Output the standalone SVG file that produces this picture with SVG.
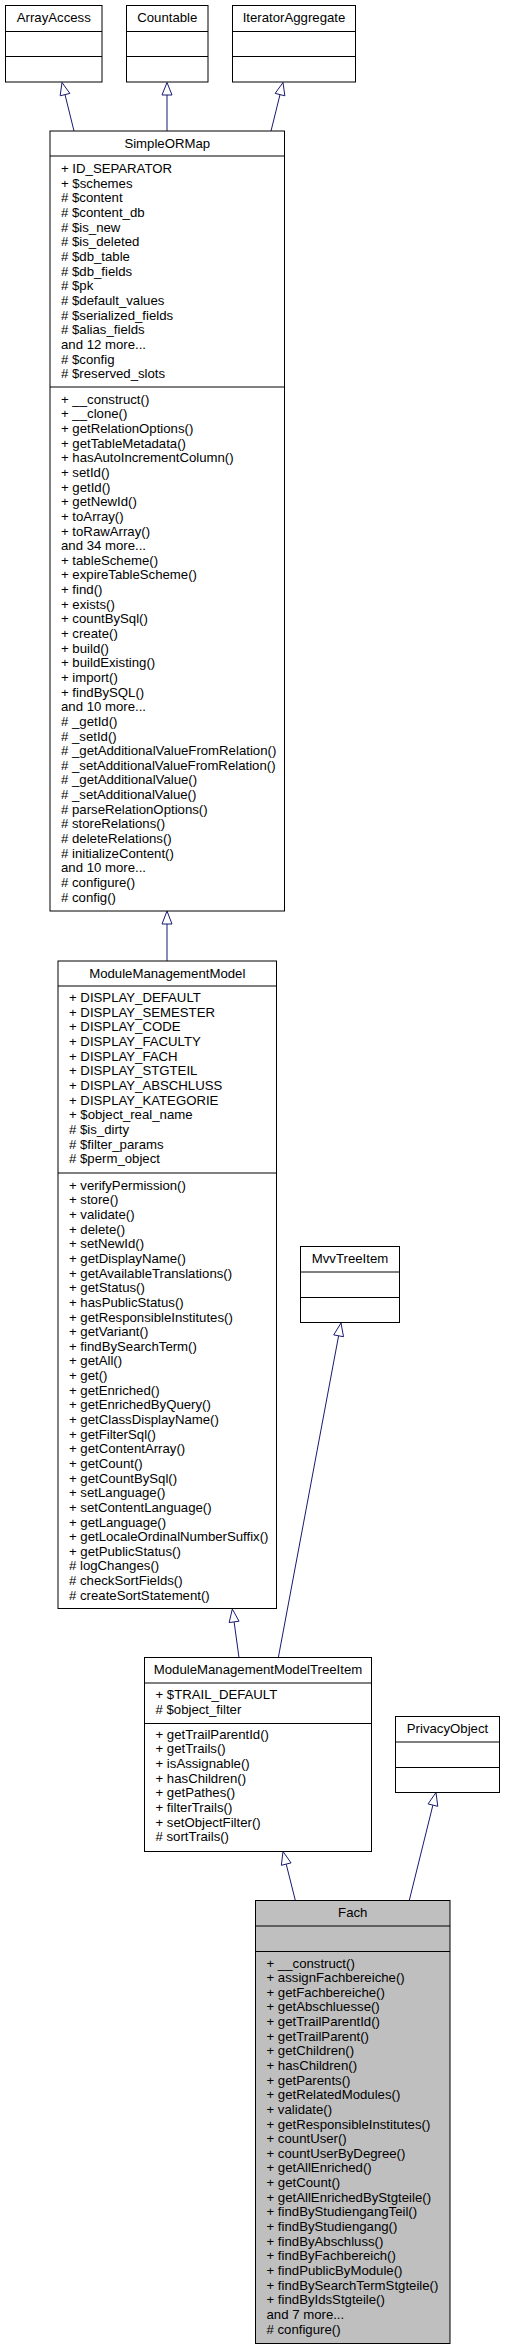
<svg xmlns="http://www.w3.org/2000/svg" width="505" height="2349" viewBox="0 0 505 2349">
<style>
text{font-family:"Liberation Sans",Arial,Helvetica,sans-serif;font-size:13.2px;fill:#000}
.h{text-anchor:middle}
.box{fill:#fff;stroke:#000;stroke-width:1}
.cur{fill:#bfbfbf;stroke:#000;stroke-width:1}
.div{stroke:#000;stroke-width:1}
.edge{stroke:#191970;stroke-width:1;fill:none}
.head{stroke:#191970;stroke-width:1;fill:#fff}
</style>
<rect width="505" height="2349" fill="#fff"/>
<g id="connectors">
<line class="edge" x1="74" y1="131" x2="65" y2="94.6"/>
<polygon class="head" points="62,82.5 69.85,93.4 60.15,95.8"/>
<line class="edge" x1="167" y1="131" x2="167" y2="95"/>
<polygon class="head" points="167,82.5 172,95 162,95"/>
<line class="edge" x1="271" y1="131" x2="280" y2="94.6"/>
<polygon class="head" points="283,82.5 284.85,95.8 275.15,93.4"/>
<line class="edge" x1="167" y1="961" x2="167" y2="924"/>
<polygon class="head" points="167,911 172,924 162,924"/>
<line class="edge" x1="278.3" y1="1657.7" x2="338.6" y2="1335.8"/>
<polygon class="head" points="341,1323 343.5,1336.7 333.7,1334.9"/>
<line class="edge" x1="239" y1="1657.7" x2="234.1" y2="1621.9"/>
<polygon class="head" points="232.3,1609 239.05,1621.2 229.15,1622.6"/>
<line class="edge" x1="409.3" y1="1900.3" x2="432.9" y2="1805.1"/>
<polygon class="head" points="436,1792.5 437.75,1806.3 428.05,1803.9"/>
<line class="edge" x1="295.3" y1="1900.3" x2="286.2" y2="1864.1"/>
<polygon class="head" points="283,1851.5 291.05,1862.9 281.35,1865.3"/>
</g>
<g id="ArrayAccess">
<rect class="box" x="5.5" y="5.5" width="96.5" height="76.5"/>
<line class="div" x1="5.5" y1="31.5" x2="102" y2="31.5"/>
<line class="div" x1="5.5" y1="56.5" x2="102" y2="56.5"/>
<text class="h" x="53.75" y="22">ArrayAccess</text>
</g>
<g id="Countable">
<rect class="box" x="126.5" y="5.5" width="81.5" height="76.5"/>
<line class="div" x1="126.5" y1="31.5" x2="208" y2="31.5"/>
<line class="div" x1="126.5" y1="56.5" x2="208" y2="56.5"/>
<text class="h" x="167.25" y="22">Countable</text>
</g>
<g id="IteratorAggregate">
<rect class="box" x="232.5" y="5.5" width="123" height="76.5"/>
<line class="div" x1="232.5" y1="31.5" x2="355.5" y2="31.5"/>
<line class="div" x1="232.5" y1="56.5" x2="355.5" y2="56.5"/>
<text class="h" x="294" y="22">IteratorAggregate</text>
</g>
<g id="SimpleORMap">
<rect class="box" x="50" y="131" width="234.5" height="780"/>
<line class="div" x1="50" y1="156" x2="284.5" y2="156"/>
<line class="div" x1="50" y1="387" x2="284.5" y2="387"/>
<text class="h" x="167.25" y="147.5">SimpleORMap</text>
<text x="61" y="173.2"><tspan x="61">+ ID_SEPARATOR</tspan><tspan x="61" dy="14.64">+ $schemes</tspan><tspan x="61" dy="14.64"># $content</tspan><tspan x="61" dy="14.64"># $content_db</tspan><tspan x="61" dy="14.64"># $is_new</tspan><tspan x="61" dy="14.64"># $is_deleted</tspan><tspan x="61" dy="14.64"># $db_table</tspan><tspan x="61" dy="14.64"># $db_fields</tspan><tspan x="61" dy="14.64"># $pk</tspan><tspan x="61" dy="14.64"># $default_values</tspan><tspan x="61" dy="14.64"># $serialized_fields</tspan><tspan x="61" dy="14.64"># $alias_fields</tspan><tspan x="61" dy="14.64">and 12 more...</tspan><tspan x="61" dy="14.64"># $config</tspan><tspan x="61" dy="14.64"># $reserved_slots</tspan></text>
<text x="61" y="403.8"><tspan x="61">+ __construct()</tspan><tspan x="61" dy="14.64">+ __clone()</tspan><tspan x="61" dy="14.64">+ getRelationOptions()</tspan><tspan x="61" dy="14.64">+ getTableMetadata()</tspan><tspan x="61" dy="14.64">+ hasAutoIncrementColumn()</tspan><tspan x="61" dy="14.64">+ setId()</tspan><tspan x="61" dy="14.64">+ getId()</tspan><tspan x="61" dy="14.64">+ getNewId()</tspan><tspan x="61" dy="14.64">+ toArray()</tspan><tspan x="61" dy="14.64">+ toRawArray()</tspan><tspan x="61" dy="14.64">and 34 more...</tspan><tspan x="61" dy="14.64">+ tableScheme()</tspan><tspan x="61" dy="14.64">+ expireTableScheme()</tspan><tspan x="61" dy="14.64">+ find()</tspan><tspan x="61" dy="14.64">+ exists()</tspan><tspan x="61" dy="14.64">+ countBySql()</tspan><tspan x="61" dy="14.64">+ create()</tspan><tspan x="61" dy="14.64">+ build()</tspan><tspan x="61" dy="14.64">+ buildExisting()</tspan><tspan x="61" dy="14.64">+ import()</tspan><tspan x="61" dy="14.64">+ findBySQL()</tspan><tspan x="61" dy="14.64">and 10 more...</tspan><tspan x="61" dy="14.64"># _getId()</tspan><tspan x="61" dy="14.64"># _setId()</tspan><tspan x="61" dy="14.64"># _getAdditionalValueFromRelation()</tspan><tspan x="61" dy="14.64"># _setAdditionalValueFromRelation()</tspan><tspan x="61" dy="14.64"># _getAdditionalValue()</tspan><tspan x="61" dy="14.64"># _setAdditionalValue()</tspan><tspan x="61" dy="14.64"># parseRelationOptions()</tspan><tspan x="61" dy="14.64"># storeRelations()</tspan><tspan x="61" dy="14.64"># deleteRelations()</tspan><tspan x="61" dy="14.64"># initializeContent()</tspan><tspan x="61" dy="14.64">and 10 more...</tspan><tspan x="61" dy="14.64"># configure()</tspan><tspan x="61" dy="14.64"># config()</tspan></text>
</g>
<g id="ModuleManagementModel">
<rect class="box" x="58" y="961" width="218.5" height="647.5"/>
<line class="div" x1="58" y1="986" x2="276.5" y2="986"/>
<line class="div" x1="58" y1="1173" x2="276.5" y2="1173"/>
<text class="h" x="167.25" y="977.5">ModuleManagementModel</text>
<text x="69" y="1002.1"><tspan x="69">+ DISPLAY_DEFAULT</tspan><tspan x="69" dy="14.64">+ DISPLAY_SEMESTER</tspan><tspan x="69" dy="14.64">+ DISPLAY_CODE</tspan><tspan x="69" dy="14.64">+ DISPLAY_FACULTY</tspan><tspan x="69" dy="14.64">+ DISPLAY_FACH</tspan><tspan x="69" dy="14.64">+ DISPLAY_STGTEIL</tspan><tspan x="69" dy="14.64">+ DISPLAY_ABSCHLUSS</tspan><tspan x="69" dy="14.64">+ DISPLAY_KATEGORIE</tspan><tspan x="69" dy="14.64">+ $object_real_name</tspan><tspan x="69" dy="14.64"># $is_dirty</tspan><tspan x="69" dy="14.64"># $filter_params</tspan><tspan x="69" dy="14.64"># $perm_object</tspan></text>
<text x="69" y="1189.8"><tspan x="69">+ verifyPermission()</tspan><tspan x="69" dy="14.64">+ store()</tspan><tspan x="69" dy="14.64">+ validate()</tspan><tspan x="69" dy="14.64">+ delete()</tspan><tspan x="69" dy="14.64">+ setNewId()</tspan><tspan x="69" dy="14.64">+ getDisplayName()</tspan><tspan x="69" dy="14.64">+ getAvailableTranslations()</tspan><tspan x="69" dy="14.64">+ getStatus()</tspan><tspan x="69" dy="14.64">+ hasPublicStatus()</tspan><tspan x="69" dy="14.64">+ getResponsibleInstitutes()</tspan><tspan x="69" dy="14.64">+ getVariant()</tspan><tspan x="69" dy="14.64">+ findBySearchTerm()</tspan><tspan x="69" dy="14.64">+ getAll()</tspan><tspan x="69" dy="14.64">+ get()</tspan><tspan x="69" dy="14.64">+ getEnriched()</tspan><tspan x="69" dy="14.64">+ getEnrichedByQuery()</tspan><tspan x="69" dy="14.64">+ getClassDisplayName()</tspan><tspan x="69" dy="14.64">+ getFilterSql()</tspan><tspan x="69" dy="14.64">+ getContentArray()</tspan><tspan x="69" dy="14.64">+ getCount()</tspan><tspan x="69" dy="14.64">+ getCountBySql()</tspan><tspan x="69" dy="14.64">+ setLanguage()</tspan><tspan x="69" dy="14.64">+ setContentLanguage()</tspan><tspan x="69" dy="14.64">+ getLanguage()</tspan><tspan x="69" dy="14.64">+ getLocaleOrdinalNumberSuffix()</tspan><tspan x="69" dy="14.64">+ getPublicStatus()</tspan><tspan x="69" dy="14.64"># logChanges()</tspan><tspan x="69" dy="14.64"># checkSortFields()</tspan><tspan x="69" dy="14.64"># createSortStatement()</tspan></text>
</g>
<g id="MvvTreeItem">
<rect class="box" x="300.5" y="1246.5" width="99" height="76"/>
<line class="div" x1="300.5" y1="1272" x2="399.5" y2="1272"/>
<line class="div" x1="300.5" y1="1297.5" x2="399.5" y2="1297.5"/>
<text class="h" x="350" y="1263.3">MvvTreeItem</text>
</g>
<g id="ModuleManagementModelTreeItem">
<rect class="box" x="144.5" y="1657.5" width="227" height="194"/>
<line class="div" x1="144.5" y1="1683" x2="371.5" y2="1683"/>
<line class="div" x1="144.5" y1="1723.5" x2="371.5" y2="1723.5"/>
<text class="h" x="258" y="1674">ModuleManagementModelTreeItem</text>
<text x="155.5" y="1699.1"><tspan x="155.5">+ $TRAIL_DEFAULT</tspan><tspan x="155.5" dy="14.64"># $object_filter</tspan></text>
<text x="155.5" y="1738.8"><tspan x="155.5">+ getTrailParentId()</tspan><tspan x="155.5" dy="14.64">+ getTrails()</tspan><tspan x="155.5" dy="14.64">+ isAssignable()</tspan><tspan x="155.5" dy="14.64">+ hasChildren()</tspan><tspan x="155.5" dy="14.64">+ getPathes()</tspan><tspan x="155.5" dy="14.64">+ filterTrails()</tspan><tspan x="155.5" dy="14.64">+ setObjectFilter()</tspan><tspan x="155.5" dy="14.64"># sortTrails()</tspan></text>
</g>
<g id="PrivacyObject">
<rect class="box" x="395.5" y="1716.5" width="104" height="76"/>
<line class="div" x1="395.5" y1="1742" x2="499.5" y2="1742"/>
<line class="div" x1="395.5" y1="1767.5" x2="499.5" y2="1767.5"/>
<text class="h" x="447.5" y="1733">PrivacyObject</text>
</g>
<g id="Fach">
<rect class="cur" x="255.5" y="1900.5" width="194.5" height="443"/>
<line class="div" x1="255.5" y1="1926" x2="450" y2="1926"/>
<line class="div" x1="255.5" y1="1951.5" x2="450" y2="1951.5"/>
<text class="h" x="352.75" y="1916.5">Fach</text>
<text x="266.5" y="1967.5"><tspan x="266.5">+ __construct()</tspan><tspan x="266.5" dy="14.64">+ assignFachbereiche()</tspan><tspan x="266.5" dy="14.64">+ getFachbereiche()</tspan><tspan x="266.5" dy="14.64">+ getAbschluesse()</tspan><tspan x="266.5" dy="14.64">+ getTrailParentId()</tspan><tspan x="266.5" dy="14.64">+ getTrailParent()</tspan><tspan x="266.5" dy="14.64">+ getChildren()</tspan><tspan x="266.5" dy="14.64">+ hasChildren()</tspan><tspan x="266.5" dy="14.64">+ getParents()</tspan><tspan x="266.5" dy="14.64">+ getRelatedModules()</tspan><tspan x="266.5" dy="14.64">+ validate()</tspan><tspan x="266.5" dy="14.64">+ getResponsibleInstitutes()</tspan><tspan x="266.5" dy="14.64">+ countUser()</tspan><tspan x="266.5" dy="14.64">+ countUserByDegree()</tspan><tspan x="266.5" dy="14.64">+ getAllEnriched()</tspan><tspan x="266.5" dy="14.64">+ getCount()</tspan><tspan x="266.5" dy="14.64">+ getAllEnrichedByStgteile()</tspan><tspan x="266.5" dy="14.64">+ findByStudiengangTeil()</tspan><tspan x="266.5" dy="14.64">+ findByStudiengang()</tspan><tspan x="266.5" dy="14.64">+ findByAbschluss()</tspan><tspan x="266.5" dy="14.64">+ findByFachbereich()</tspan><tspan x="266.5" dy="14.64">+ findPublicByModule()</tspan><tspan x="266.5" dy="14.64">+ findBySearchTermStgteile()</tspan><tspan x="266.5" dy="14.64">+ findByIdsStgteile()</tspan><tspan x="266.5" dy="14.64">and 7 more...</tspan><tspan x="266.5" dy="14.64"># configure()</tspan></text>
</g>
</svg>
